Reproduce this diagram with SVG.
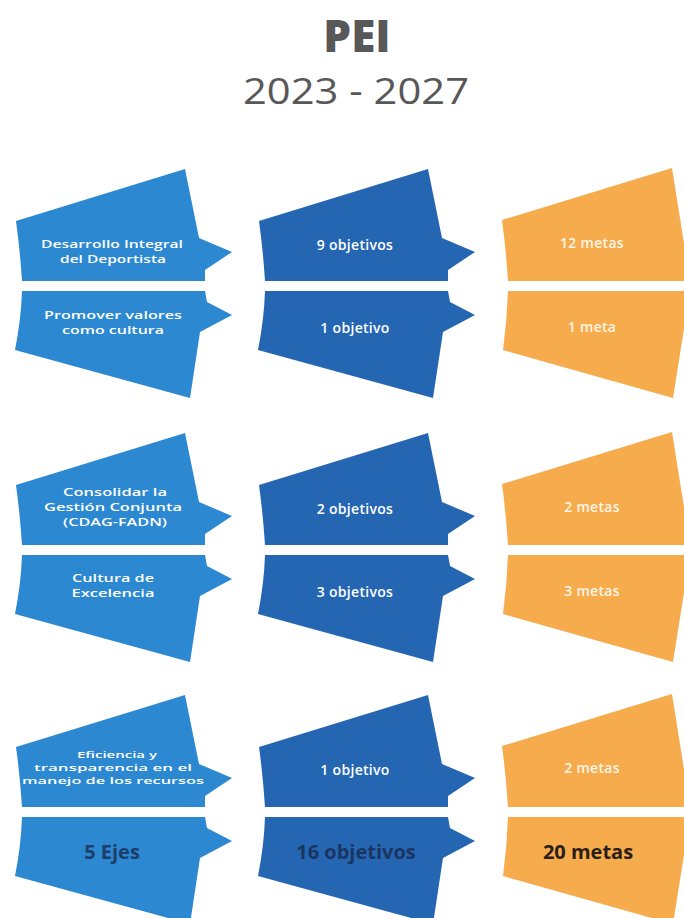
<svg xmlns="http://www.w3.org/2000/svg" xmlns:xlink="http://www.w3.org/1999/xlink" width="684" height="918" viewBox="0 0 684 918">
<style>
.c1{fill:#2b88d1}
.c2{fill:#2566b2}
.c3{fill:#f6ab4d}
.t{font-family:"Open Sans","Liberation Sans",sans-serif;font-weight:600;font-size:14px;fill:#ffffff;text-anchor:middle;letter-spacing:0.3px}
.s{font-size:11.5px;letter-spacing:0}
.xs{font-size:9.5px;letter-spacing:0}
.to{font-family:"Open Sans","Liberation Sans",sans-serif;font-weight:600;font-size:14px;fill:#fff6e6;text-anchor:middle;letter-spacing:0.3px}
.tb{font-family:"Open Sans","Liberation Sans",sans-serif;font-weight:700;font-size:20px;text-anchor:middle}
.title{font-family:"Open Sans","Liberation Sans",sans-serif;fill:#585858;text-anchor:middle}
</style>
<defs>
<path id="lt" d="M16,221 L185,169 L199,238 L232,252 L205,270 L205,281 L22,281 Q20,250 16,221 Z"/>
<path id="lb" d="M22,291 L205,291 L207,302 L232,315 L200,332 L190,398 L15,350 Q21,320 22,291 Z"/>
<path id="ot" d="M502,220 L672,168 L690,281 L508,281 Q506,250 502,220 Z"/>
<path id="ob" d="M508,291 L690,291 L673,398 L503,350 Q507,320 508,291 Z"/>
</defs>
<rect width="684" height="918" fill="#ffffff"/>
<g id="title">
<text class="title" x="357" y="52" font-size="44" font-weight="800">PEI</text>
<text class="title" x="356" y="104" font-size="37" font-weight="400" textLength="226" lengthAdjust="spacingAndGlyphs">2023 - 2027</text>
</g>
<g id="connectors"/>

<!-- Group 1 -->
<g id="eje1">
<use xlink:href="#lt" class="c1"/>
<text class="t s" x="112" y="248" textLength="142" lengthAdjust="spacingAndGlyphs">Desarrollo Integral</text>
<text class="t s" x="113" y="263" textLength="106" lengthAdjust="spacingAndGlyphs">del Deportista</text>
</g>
<g id="obj1">
<use xlink:href="#lt" class="c2" transform="translate(243,0)"/>
<text class="t" x="355" y="250">9 objetivos</text>
</g>
<g id="meta1">
<use xlink:href="#ot" class="c3"/>
<text class="to" x="592" y="248">12 metas</text>
</g>
<g id="eje2">
<use xlink:href="#lb" class="c1"/>
<text class="t s" x="113" y="319" textLength="138" lengthAdjust="spacingAndGlyphs">Promover valores</text>
<text class="t s" x="113" y="334" textLength="102" lengthAdjust="spacingAndGlyphs">como cultura</text>
</g>
<g id="obj2">
<use xlink:href="#lb" class="c2" transform="translate(243,0)"/>
<text class="t" x="355" y="333">1 objetivo</text>
</g>
<g id="meta2">
<use xlink:href="#ob" class="c3"/>
<text class="to" x="592" y="332">1 meta</text>
</g>

<!-- Group 2 -->
<g id="eje3">
<use xlink:href="#lt" class="c1" transform="translate(0,264)"/>
<text class="t s" x="115" y="496" textLength="104" lengthAdjust="spacingAndGlyphs">Consolidar la</text>
<text class="t s" x="113" y="511" textLength="138" lengthAdjust="spacingAndGlyphs">Gestión Conjunta</text>
<text class="t s" x="115" y="526" textLength="104" lengthAdjust="spacingAndGlyphs">(CDAG-FADN)</text>
</g>
<g id="obj3">
<use xlink:href="#lt" class="c2" transform="translate(243,264)"/>
<text class="t" x="355" y="514">2 objetivos</text>
</g>
<g id="meta3">
<use xlink:href="#ot" class="c3" transform="translate(0,264)"/>
<text class="to" x="592" y="512">2 metas</text>
</g>
<g id="eje4">
<use xlink:href="#lb" class="c1" transform="translate(0,264)"/>
<text class="t s" x="113" y="582" textLength="82" lengthAdjust="spacingAndGlyphs">Cultura de</text>
<text class="t s" x="113" y="597" textLength="83" lengthAdjust="spacingAndGlyphs">Excelencia</text>
</g>
<g id="obj4">
<use xlink:href="#lb" class="c2" transform="translate(243,264)"/>
<text class="t" x="355" y="597">3 objetivos</text>
</g>
<g id="meta4">
<use xlink:href="#ob" class="c3" transform="translate(0,264)"/>
<text class="to" x="592" y="596">3 metas</text>
</g>

<!-- Group 3 -->
<g id="eje5">
<use xlink:href="#lt" class="c1" transform="translate(0,526)"/>
<text class="t xs" x="117" y="758" textLength="80" lengthAdjust="spacingAndGlyphs">Eficiencia y</text>
<text class="t xs" x="113" y="771" textLength="158" lengthAdjust="spacingAndGlyphs">transparencia en el</text>
<text class="t xs" x="113" y="784" textLength="182" lengthAdjust="spacingAndGlyphs">manejo de los recursos</text>
</g>
<g id="obj5">
<use xlink:href="#lt" class="c2" transform="translate(243,526)"/>
<text class="t" x="355" y="775">1 objetivo</text>
</g>
<g id="meta5">
<use xlink:href="#ot" class="c3" transform="translate(0,526)"/>
<text class="to" x="592" y="773">2 metas</text>
</g>
<g id="total-ejes">
<use xlink:href="#lb" class="c1" transform="translate(0,526)"/>
<text class="tb" x="112" y="859" fill="#1e3d6b">5 Ejes</text>
</g>
<g id="total-obj">
<use xlink:href="#lb" class="c2" transform="translate(243,526)"/>
<text class="tb" x="356" y="859" fill="#1b3563">16 objetivos</text>
</g>
<g id="total-metas">
<use xlink:href="#ob" class="c3" transform="translate(0,526)"/>
<text class="tb" x="588" y="859" fill="#2a2018" font-size="22">20 metas</text>
</g>
</svg>
